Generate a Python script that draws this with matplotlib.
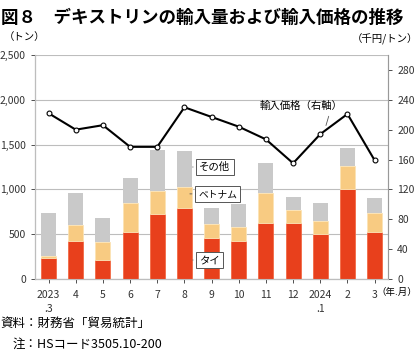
import matplotlib.pyplot as plt

plt.rcParams['font.family'] = ['Noto Sans CJK JP', 'DejaVu Sans']

months = ['2023\n.3', '4', '5', '6', '7', '8', '9', '10', '11', '12', '2024\n.1', '2', '3']
thai = [230, 420, 210, 520, 720, 795, 455, 425, 625, 625, 500, 1000, 530]
vietnam = [30, 180, 200, 330, 260, 230, 160, 155, 335, 145, 147, 260, 205]
other = [480, 360, 270, 277, 460, 405, 177, 257, 335, 145, 200, 200, 167]
price = [222, 200, 206, 177, 177, 230, 217, 204, 187, 155, 194, 221, 159]

RED = '#E8401C'
TAN = '#F8CB82'
GRAY = '#C9C9C9'
GRID = '#BDBDBD'

fig = plt.figure(figsize=(4.2, 3.51), dpi=100)
ax = fig.add_axes([0.0833, 0.2051, 0.8410, 0.6382])
ax2 = ax.twinx()

x = list(range(len(months)))
w = 0.55
base2 = [a + b for a, b in zip(thai, vietnam)]
ax.bar(x, thai, w, color=RED, edgecolor='#F26A45', linewidth=0.6, zorder=3)
ax.bar(x, vietnam, w, bottom=thai, color=TAN, edgecolor='#FBE3B5', linewidth=0.6, zorder=3)
ax.bar(x, other, w, bottom=base2, color=GRAY, linewidth=0, zorder=3)

ax.set_xlim(-0.5, len(months) - 0.5)
ax.set_ylim(0, 2500)
ax.set_yticks(range(0, 2501, 500))
ax.set_yticklabels([f'{v:,}' for v in range(0, 2501, 500)])
ax.yaxis.grid(True, color=GRID, linewidth=0.8, zorder=0)
ax.set_axisbelow(True)
ax.set_xticks(x)
ax.set_xticklabels(months, linespacing=1.5)

ax2.plot(x, price, color='black', linewidth=1.5, marker='o', markersize=3.5,
         markerfacecolor='white', markeredgecolor='black', markeredgewidth=0.8, zorder=5)
ax2.set_ylim(0, 300)
ax2.set_yticks(range(0, 281, 40))

for a in (ax, ax2):
    for s in a.spines.values():
        s.set_color(GRID)
        s.set_linewidth(0.8)
    a.tick_params(colors='#333333', labelsize=7.5, length=3, width=0.6)
ax.spines['top'].set_visible(False)
ax2.spines['top'].set_visible(False)
ax.spines['left'].set_color('#999999')
ax2.spines['right'].set_color('#999999')
ax.spines['bottom'].set_color('#999999')
ax.tick_params(axis='x', length=3, pad=5)

# series labels
box = dict(boxstyle='square,pad=0.3', facecolor='white', edgecolor='#555555', linewidth=0.7)
line = dict(arrowstyle='-', color='#555555', lw=0.6)
ax.annotate('その他', xy=(5.2, 1250), xytext=(5.55, 1250), fontsize=7.5, va='center',
            bbox=box, arrowprops=line, zorder=6)
ax.annotate('ベトナム', xy=(5.2, 950), xytext=(5.5, 950), fontsize=7, va='center',
            bbox=box, arrowprops=line, zorder=6)
ax.annotate('タイ', xy=(5.2, 212), xytext=(5.55, 212), fontsize=7.5, va='center',
            bbox=box, arrowprops=line, zorder=6)
ax2.annotate('輸入価格（右軸）', xy=(10.18, 202), xytext=(9.3, 232), fontsize=7.5,
             ha='center', va='center', arrowprops=dict(line, relpos=(0.85, 0)), zorder=6)

fig.text(0.003, 0.975, '図８　デキストリンの輸入量および輸入価格の推移', fontsize=12.6,
         fontweight='bold', va='top', ha='left')
fig.text(0.01, 0.895, '（トン）', fontsize=7.5, va='center', ha='left')
fig.text(0.995, 0.888, '（千円/トン）', fontsize=7.5, va='center', ha='right')
fig.text(0.897, 0.166, '（年.月）', fontsize=6.8, va='center', ha='left')
fig.text(0.0, 0.080, '資料：財務省「貿易統計」', fontsize=9, va='center', ha='left')
fig.text(0.03, 0.020, '注：HSコード3505.10-200', fontsize=9, va='center', ha='left')

fig.savefig('out.png', dpi=100)
